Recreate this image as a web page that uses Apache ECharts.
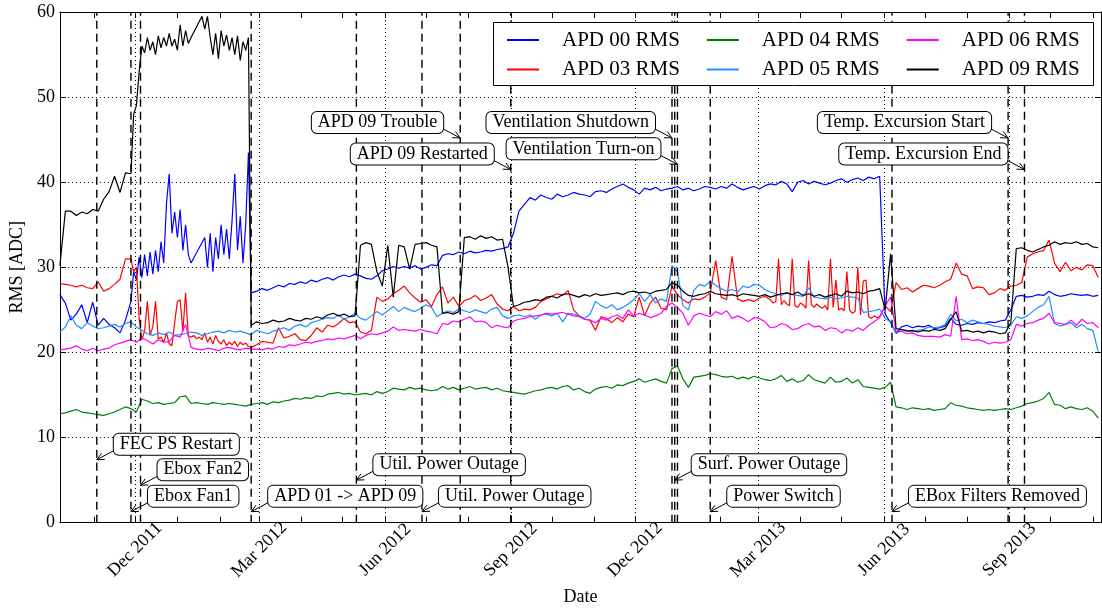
<!DOCTYPE html>
<html><head><meta charset="utf-8">
<script src="https://cdn.jsdelivr.net/npm/echarts@6/dist/echarts.min.js"></script>
<style>html,body{margin:0;padding:0;background:#fff}#c{width:1102px;height:611px}</style>
</head><body><div id="c"></div>
<script>
// ---------------- data ----------------
const startDate = '2011-10-07';
const stepDays = 4;
const axisStart = '2011-10-07';
const axisEnd = '2013-11-07';
const seriesNames = ['APD 00 RMS','APD 03 RMS','APD 04 RMS','APD 05 RMS','APD 06 RMS','APD 09 RMS'];

const apd00 = [
26.8,25.8,23.8,24.5,25.6,23.5,25.9,23.2,24.0,23.3,
22.9,22.3,23.8,26.0,30.0,28.5,31.3,29.0,32.0,30.0,
41.0,34.0,36.8,32.5,31.0,30.6,30.8,34.5,29.5,34.8,
31.5,34.0,41.0,31.0,43.5,27.0,27.2,27.5,27.3,27.6,
27.9,27.7,28.1,28.0,28.3,28.1,28.5,28.3,28.6,28.8,
28.5,28.9,29.1,28.9,29.2,29.0,28.7,28.6,29.0,29.6,
29.8,30.1,29.9,30.1,29.9,30.2,29.8,30.0,30.3,30.2,
31.4,31.6,31.5,31.8,31.6,31.9,31.7,31.8,32.0,31.9,
32.1,32.2,32.4,34.0,36.6,37.4,38.2,37.9,38.5,38.2,
38.0,38.6,38.3,38.5,38.8,38.6,38.5,38.3,38.9,39.0,
38.8,39.2,39.5,39.8,39.4,39.1,38.6,39.3,39.1,39.4,
39.0,39.2,39.3,39.5,39.1,39.3,39.0,39.2,39.5,39.4,
39.2,39.5,39.3,39.8,39.4,39.1,39.3,39.5,39.2,39.6,
39.8,39.7,40.1,39.8,38.9,40.0,40.2,39.8,40.1,39.9,
39.7,39.9,40.2,40.4,40.0,40.3,40.5,40.2,40.6,40.4,
40.7,24.5,23.5,22.3,23.0,23.2,22.9,23.1,23.0,23.2,
22.8,22.9,23.1,24.0,23.3,23.2,23.4,23.3,23.5,23.4,
23.6,23.5,23.7,23.8,25.0,26.6,26.7,26.5,26.6,26.8,
26.7,27.2,26.8,26.6,26.7,26.9,26.8,26.7,26.8,26.6,26.7];

const apd03 = [
28.1,28.0,27.9,27.7,27.9,27.6,27.5,28.3,27.2,27.5,
28.0,28.6,31.0,31.5,29.5,25.5,22.0,26.0,21.5,21.2,
20.9,26.0,22.0,26.8,22.0,21.8,21.5,22.0,21.4,21.0,
21.3,21.1,20.8,21.2,20.9,20.6,20.9,21.3,21.2,21.1,
22.9,21.7,21.9,22.2,21.5,21.4,22.0,22.9,22.4,23.2,
23.0,23.4,24.0,23.5,23.6,22.4,22.2,22.6,26.5,26.0,
26.3,26.9,27.3,27.8,27.0,26.4,25.9,26.2,25.4,26.8,
27.7,25.8,26.5,25.4,26.1,26.3,26.7,26.1,26.4,26.8,
25.7,25.1,24.9,25.4,24.9,25.1,25.0,25.3,26.0,26.3,
26.6,26.9,26.7,27.3,25.0,24.3,23.9,23.8,22.6,24.2,
24.0,23.5,24.1,23.6,24.5,24.2,26.5,24.3,25.8,26.5,
25.2,25.0,27.8,26.8,26.2,25.8,26.3,26.2,26.5,27.0,
30.8,26.5,26.2,31.3,26.3,26.0,26.2,26.0,26.4,26.6,
25.5,26.0,30.8,25.8,30.6,25.4,25.6,30.5,25.8,25.6,
25.4,30.4,28.0,25.3,29.0,24.8,29.5,24.6,27.0,24.0,
24.2,25.5,24.8,28.2,27.4,27.6,27.1,27.5,27.9,27.8,
27.6,27.9,28.3,28.6,30.5,29.2,29.0,27.5,27.7,27.6,
26.8,27.0,27.5,27.3,27.8,27.9,28.2,31.2,31.6,31.8,
32.0,33.2,30.5,29.5,30.6,29.6,30.0,29.7,30.3,30.2,28.8];

const apd04 = [
12.8,12.9,13.1,13.3,13.0,12.9,12.8,12.7,12.6,12.8,
13.0,13.3,13.6,13.4,13.0,14.5,14.3,14.0,14.1,13.9,
14.0,14.1,14.8,14.9,14.0,14.1,14.0,13.9,14.1,14.0,
13.9,14.0,13.9,13.8,13.7,13.9,14.0,14.1,13.9,14.2,
14.1,14.3,14.4,14.6,14.5,14.7,14.6,14.9,14.8,15.1,
15.2,15.3,15.1,15.2,15.0,15.1,15.2,15.0,15.4,15.2,
15.4,15.8,15.7,15.6,15.9,15.7,15.8,15.6,15.5,15.6,
16.0,15.7,15.9,15.6,15.8,16.0,15.7,15.8,15.9,15.6,
15.8,15.5,15.4,15.3,15.2,15.1,15.3,15.5,15.6,15.8,
15.9,15.7,16.0,16.1,15.6,15.8,15.4,15.2,15.7,15.9,
16.0,15.8,16.2,16.1,16.4,16.6,16.9,16.5,16.7,16.9,
16.6,16.4,18.1,18.4,16.9,15.9,17.1,17.2,17.3,17.5,
17.4,17.2,17.1,17.2,16.9,17.1,16.9,17.2,17.0,16.8,
16.7,16.9,17.3,16.6,16.9,16.5,16.7,17.4,16.8,16.6,
16.4,17.1,16.5,16.6,17.0,16.4,16.8,16.0,15.9,15.8,
15.7,15.9,16.5,13.6,13.5,13.3,13.5,13.4,13.3,13.4,
13.2,13.3,13.4,14.1,13.8,13.7,13.5,13.4,13.3,13.2,
13.3,13.2,13.3,13.4,13.3,13.5,13.7,14.0,14.1,14.3,
14.6,15.3,13.9,13.8,13.4,13.6,13.4,13.3,13.5,13.1,12.3];

const apd05 = [
22.4,23.0,24.3,23.2,22.8,23.5,23.1,22.8,22.9,23.1,
23.3,23.0,23.4,23.6,23.0,22.6,22.2,22.0,22.3,22.1,
22.4,22.0,22.1,22.2,22.4,22.3,22.0,22.2,22.4,22.5,
22.3,22.6,22.4,22.5,22.3,22.1,22.6,22.4,22.2,22.5,
22.7,22.9,22.6,23.1,23.3,23.0,23.5,23.7,23.9,24.1,
24.0,24.4,23.9,24.2,24.6,24.0,23.8,24.3,24.8,24.4,
24.9,25.4,24.8,25.3,25.0,24.8,25.2,25.6,25.3,24.2,
24.6,24.9,24.7,25.1,24.9,24.7,25.0,24.8,24.6,25.1,
25.3,24.3,24.0,24.3,24.4,24.2,24.4,23.9,24.4,24.5,
24.3,24.6,23.6,24.6,24.5,24.3,24.0,24.5,26.0,25.5,
25.2,25.6,25.0,25.3,25.7,26.2,26.9,26.0,26.8,25.8,
26.3,26.0,30.2,29.5,25.5,25.0,27.3,28.0,27.8,28.4,
27.9,27.5,27.2,27.4,27.1,27.8,27.6,28.0,27.9,27.4,
27.1,26.9,26.7,27.0,26.8,26.7,26.6,27.6,26.5,26.4,
26.3,26.5,26.3,26.4,26.6,26.5,26.4,24.7,24.8,24.9,
25.1,24.0,23.6,22.2,22.7,22.6,22.4,22.6,22.7,23.0,
22.9,23.0,23.3,24.5,23.7,23.9,23.5,23.8,23.6,23.4,
23.3,23.1,23.0,22.9,23.2,24.2,24.0,24.3,24.8,25.3,
25.6,26.6,23.4,23.1,23.3,23.5,22.9,23.3,22.8,22.6,20.1];

const apd06 = [
20.3,20.4,20.5,20.8,20.4,20.2,20.5,20.2,20.4,20.5,
20.9,21.1,21.3,21.5,21.2,21.7,21.4,21.0,21.5,21.2,
21.3,22.0,21.8,23.3,20.6,20.4,20.3,20.5,20.4,20.2,
20.5,20.6,20.4,20.3,20.5,20.4,20.4,20.3,20.5,20.4,
20.7,20.6,20.9,20.8,21.0,21.2,21.1,21.3,21.4,21.6,
21.5,21.7,21.6,21.8,22.0,21.6,22.0,22.2,22.1,22.3,
22.5,23.0,22.6,22.7,22.6,22.5,22.7,22.5,22.4,22.2,
23.4,23.3,23.7,23.6,23.9,24.2,23.6,23.7,23.5,22.9,
23.2,23.0,22.9,23.7,23.9,24.0,24.2,24.3,24.4,24.6,
24.5,24.6,24.7,24.5,24.3,24.2,23.9,23.8,23.5,24.0,
23.8,24.2,24.4,24.0,25.0,24.3,24.6,24.4,24.1,24.3,
24.6,25.4,25.8,25.3,24.6,23.2,24.3,24.6,24.4,24.2,
24.8,24.5,24.9,24.0,24.3,24.0,23.6,24.1,24.0,23.6,
22.9,23.0,23.4,23.2,22.7,22.8,23.2,23.4,23.0,23.1,
22.6,22.9,22.8,22.3,22.7,22.5,22.9,22.6,23.2,23.6,
24.1,25.5,26.5,22.4,22.5,22.2,22.3,22.0,21.9,21.9,
21.9,21.8,22.1,21.9,26.6,21.5,21.6,21.4,21.5,21.3,
21.0,21.2,21.1,21.2,21.5,23.3,23.1,23.4,23.5,23.8,
24.0,24.6,23.5,23.4,23.3,23.8,23.2,23.9,23.4,23.5,22.9];

const apd09 = [
30.2,36.6,36.6,36.1,36.5,36.3,36.8,36.6,38.0,38.9,
40.7,38.8,41.1,41.5,49.5,56.0,55.5,56.8,55.6,57.0,
56.2,56.9,57.4,56.1,57.8,58.6,59.4,57.5,55.5,55.0,
57.2,56.4,57.0,55.0,56.2,23.2,23.6,23.4,23.5,23.8,
23.6,23.7,24.0,23.8,23.7,24.0,23.9,24.2,24.0,24.4,
24.6,24.3,24.5,24.2,24.3,32.6,32.9,32.7,29.5,27.8,
32.6,26.5,32.6,32.4,29.8,32.7,32.8,32.9,32.6,32.4,
24.6,24.7,24.5,24.8,33.5,33.6,33.3,33.7,33.4,33.6,
33.2,33.3,30.0,25.4,25.6,25.9,26.0,26.2,26.1,26.5,
26.6,26.4,26.8,26.9,26.7,26.5,26.8,26.6,26.9,26.7,
26.8,26.9,27.0,26.8,27.1,27.2,27.0,27.1,26.9,27.2,
27.3,27.4,28.2,27.9,27.2,26.7,26.6,26.8,26.9,27.2,
26.9,26.8,26.7,26.8,26.6,26.9,26.8,26.7,26.6,26.8,
26.5,26.7,26.9,27.0,26.8,27.1,26.7,26.9,26.6,26.8,
26.5,26.7,26.9,26.6,27.2,27.0,27.1,26.9,27.2,27.3,
27.5,25.0,31.6,22.8,22.7,22.5,22.6,22.4,22.6,22.5,
22.7,22.6,22.8,23.9,24.8,22.5,22.6,22.4,22.5,22.3,
22.5,22.4,22.2,22.3,23.5,32.2,32.3,32.0,31.8,32.1,
32.4,32.6,33.0,32.7,32.9,32.8,33.0,32.7,32.8,32.4,32.3];

// finer 2-day readings for the noisiest stretches (null = no reading)
const detailStepDays = 2;
const winterDetailStart = '2011-11-28';
const apd00Winter = [
26.0,29.5,28.5,31.2,28.8,31.5,29.0,31.8,29.2,32.0,
29.5,33.0,30.5,37.5,41.0,34.0,36.5,33.5,36.8,32.0,
35.0,31.5,30.5,null,null,null,null,33.5,30.0,34.0,
29.5,33.5,31.0,35.0,31.5,34.5,31.0,35.5,41.0,32.0,
36.0,30.5,35.0,43.5];
const apd09Winter = [
41.0,48.0,49.0,53.0,56.0,55.2,57.0,55.5,56.5,55.0,
57.2,55.8,57.0,56.0,57.5,56.0,56.8,55.5,58.5,56.0,
57.8,56.3,57.0,null,null,null,59.5,58.0,59.5,57.0,
55.0,57.5,54.5,57.8,56.0,57.3,55.5,57.0,55.0,57.2,
54.3,56.5,55.5,57.0];
const apd03Winter = [
31.0,29.5,30.0,24.0,21.5,22.5,26.0,22.0,23.0,26.0,
21.6,21.8,21.2,22.3,21.0,20.8,23.5,26.0,26.2,22.5,
27.0,22.0,21.8,22.0,21.6,21.8,21.5,22.3,21.2,21.8,
21.0,22.0,21.3,21.0,21.5,20.8,21.2,20.9,21.3,20.7,
21.2,20.9,21.1,20.7];
const springDetailStart = '2013-03-10';
const apd03Spring = [
26.2,25.8,26.0,31.0,25.6,26.1,25.7,25.5,31.0,25.5,
25.3,25.8,25.6,25.2,30.8,25.6,25.3,25.7,25.4,25.2,
25.5,25.0,31.0,25.3,28.5,25.0,25.2,24.9,29.5,25.0,
24.6,24.8,30.0,24.4,28.4,28.5,24.2,24.0,24.3,24.1,
24.2];

const majorTickDates = ['2011-12-01','2012-03-01','2012-06-01','2012-09-01','2012-12-01','2013-03-01','2013-06-01','2013-09-01'];
const majorTickLabels = ['Dec 2011','Mar 2012','Jun 2012','Sep 2012','Dec 2012','Mar 2013','Jun 2013','Sep 2013'];
const minorTickDates = ['2011-11-01','2011-12-01','2012-01-01','2012-02-01','2012-03-01','2012-04-01','2012-05-01','2012-06-01','2012-07-01','2012-08-01','2012-09-01','2012-10-01','2012-11-01','2012-12-01','2013-01-01','2013-02-01','2013-03-01','2013-04-01','2013-05-01','2013-06-01','2013-07-01','2013-08-01','2013-09-01','2013-10-01','2013-11-01'];
const yMin = 0, yMax = 60, yStep = 10;

const eventDates = ['2011-11-03','2011-11-28','2011-12-05','2012-02-24','2012-05-11','2012-06-28','2012-07-26','2012-09-01','2012-12-28','2012-12-30','2013-01-01','2013-01-25','2013-06-07','2013-08-31','2013-09-12'];
const eventLabels = ['FEC PS Restart','Ebox Fan1','Ebox Fan2','APD 01 -> APD 09','Util. Power Outage','Util. Power Outage','APD 09 Trouble','APD 09 Restarted','Ventilation Shutdown','Surf. Power Outage','Ventilation Turn-on','Power Switch','EBox Filters Removed','Temp. Excursion Start','Temp. Excursion End'];
const eventTipValues = [7.4,1.3,4.4,1.3,5.0,1.3,45.2,41.5,45.2,5.0,42.1,1.3,1.3,45.2,41.5];

// ---------------- styles / layout ----------------
const eventSides = ['R','R','R','R','R','R','L','L','L','R','L','R','R','L','L'];
const seriesColors = ['#0000ff','#ff0000','#008000','#1e90ff','#ff00ff','#000000'];
const FONT = '"Liberation Serif", "Times New Roman", serif';

function toTs(s){ const p = s.split('-').map(Number); return Date.UTC(p[0], p[1]-1, p[2]); }
const DAY = 86400000;
const t0 = toTs(startDate);
function build(vals, details){
  const wins = (details || []).map(d => {
    const s = toTs(d.start);
    return {s: s, e: s + (d.vals.length - 1) * detailStepDays * DAY, vals: d.vals};
  });
  let pts = [];
  vals.forEach((v,i) => {
    const t = t0 + i*stepDays*DAY;
    if (!wins.some(w => t >= w.s && t <= w.e)) pts.push([t, v]);
  });
  wins.forEach(w => w.vals.forEach((v,k) => { if (v !== null) pts.push([w.s + k*detailStepDays*DAY, v]); }));
  pts.sort((a,b) => a[0]-b[0]);
  return pts;
}
const seriesData = [
  build(apd00, [{start: winterDetailStart, vals: apd00Winter}]),
  build(apd03, [{start: winterDetailStart, vals: apd03Winter}, {start: springDetailStart, vals: apd03Spring}]),
  build(apd04),
  build(apd05),
  build(apd06),
  build(apd09, [{start: winterDetailStart, vals: apd09Winter}])
];

const majorTs = majorTickDates.map(toTs);
const minorTs = minorTickDates.map(toTs);
const xMin = toTs(axisStart), xMax = toTs(axisEnd);

const chart = echarts.init(document.getElementById('c'), null, {renderer:'canvas'});

const lineSeries = seriesData.map((data, k) => ({
  type:'line', name: seriesNames[k], data: data, xAxisIndex:0, yAxisIndex:0,
  symbol:'none', showSymbol:false, z:2, connectNulls:true,
  lineStyle:{color: seriesColors[k], width:1.2}, itemStyle:{color: seriesColors[k]},
  emphasis:{disabled:true}, animation:false
}));

const eventSeries = {
  type:'custom', name:'events', xAxisIndex:0, yAxisIndex:0, z:5, silent:true, clip:false,
  encode:{x:0, y:1},
  data: eventDates.map((d,i)=>[toTs(d), eventTipValues[i], i]),
  renderItem: function(params, api){
    const i = api.value(2);
    const t = api.value(0);
    const p0 = api.coord([t, yMin]);
    const p1 = api.coord([t, yMax]);
    const tip = api.coord([t, api.value(1)]);
    const s = eventSides[i] === 'R' ? 1 : -1;
    const start = [tip[0] + s*17, tip[1] - 9];
    const ang = Math.atan2(tip[1]-start[1], tip[0]-start[0]);
    const L = 8, a = 0.45;
    const h1 = [tip[0] - L*Math.cos(ang - a), tip[1] - L*Math.sin(ang - a)];
    const h2 = [tip[0] - L*Math.cos(ang + a), tip[1] - L*Math.sin(ang + a)];
    return {type:'group', children:[
      {type:'line', z2:1, shape:{x1:p0[0], y1:p0[1], x2:p1[0], y2:p1[1]}, style:{stroke:'#000', lineWidth:1.4, lineDash:[8,5]}},
      {type:'polyline', z2:20, shape:{points:[start, tip]}, style:{stroke:'#000', lineWidth:1, fill:null}},
      {type:'polyline', z2:20, shape:{points:[h1, tip, h2]}, style:{stroke:'#000', lineWidth:1, fill:null}},
      {type:'text', z2:30, style:{text: eventLabels[i], x: tip[0] + s*17, y: tip[1] - 15.5,
        align: s > 0 ? 'left' : 'right', verticalAlign:'middle',
        fontSize:18, fontFamily: FONT, fill:'#000', backgroundColor:'#fff',
        borderColor:'#000', borderWidth:1, borderRadius:5, padding:[2,6,1,6]}}
    ]};
  }
};

const tickStyle = {color:'#000', width:1};
const legendCommon = {
  orient:'horizontal', left:507, itemWidth:32, itemHeight:2, itemGap:27, padding:0, z:11,
  selectedMode:false, icon:'rect',
  textStyle:{fontFamily: FONT, fontSize:21, color:'#000', padding:[0,0,0,18]}
};

chart.setOption({
  animation:false,
  backgroundColor:'#fff',
  grid:{left:55, right:1, top:12, bottom:87, containLabel:false},
  legend:[
    Object.assign({}, legendCommon, {top:29.5, data:[seriesNames[0], seriesNames[2], seriesNames[4]]}),
    Object.assign({}, legendCommon, {top:59, data:[seriesNames[1], seriesNames[3], seriesNames[5]]})
  ],
  graphic:[{type:'rect', z:10, shape:{x:493.5, y:22.5, width:600, height:63}, style:{fill:'#fff', stroke:'#000', lineWidth:1}}],
  xAxis:[
    {type:'value', position:'bottom', min:xMin, max:xMax, scale:true,
     axisLine:{show:true, lineStyle:tickStyle},
     axisTick:{show:true, inside:true, length:6, customValues: majorTs, lineStyle:tickStyle},
     axisLabel:{show:true, customValues: majorTs, rotate:45, align:'center', verticalAlign:'middle', margin:27,
       fontFamily: FONT, fontSize:18, color:'#000',
       formatter: function(v){ const k = majorTs.indexOf(v); return k >= 0 ? majorTickLabels[k] : ''; }},
     splitLine:{show:true, lineStyle:{color:'#000', width:1, type:[1,3]}},
     name:'Date', nameLocation:'middle', nameGap:64, nameTextStyle:{fontFamily: FONT, fontSize:18, color:'#000'}},
    {type:'value', position:'bottom', min:xMin, max:xMax, scale:true,
     axisLine:{show:false}, axisTick:{show:true, inside:true, length:6, customValues: minorTs, lineStyle:tickStyle},
     axisLabel:{show:false}, splitLine:{show:false}},
    {type:'value', position:'top', min:xMin, max:xMax, scale:true,
     axisLine:{show:true, lineStyle:tickStyle}, axisTick:{show:true, inside:true, length:6, customValues: minorTs, lineStyle:tickStyle},
     axisLabel:{show:false}, splitLine:{show:false}}
  ],
  yAxis:[
    {type:'value', position:'left', min:yMin, max:yMax, interval:yStep,
     axisLine:{show:true, lineStyle:tickStyle}, axisTick:{show:true, inside:true, length:6, lineStyle:tickStyle},
     axisLabel:{fontFamily: FONT, fontSize:18, color:'#000', margin:5},
     splitLine:{show:true, lineStyle:{color:'#000', width:1, type:[1,3]}},
     name:'RMS [ADC]', nameLocation:'middle', nameRotate:90, nameGap:22,
     nameTextStyle:{fontFamily: FONT, fontSize:18, color:'#000'}},
    {type:'value', position:'right', min:yMin, max:yMax, interval:yStep,
     axisLine:{show:true, lineStyle:tickStyle}, axisTick:{show:true, inside:true, length:6, lineStyle:tickStyle},
     axisLabel:{show:false}, splitLine:{show:false}}
  ],
  series: lineSeries.concat([eventSeries])
});
</script></body></html>
